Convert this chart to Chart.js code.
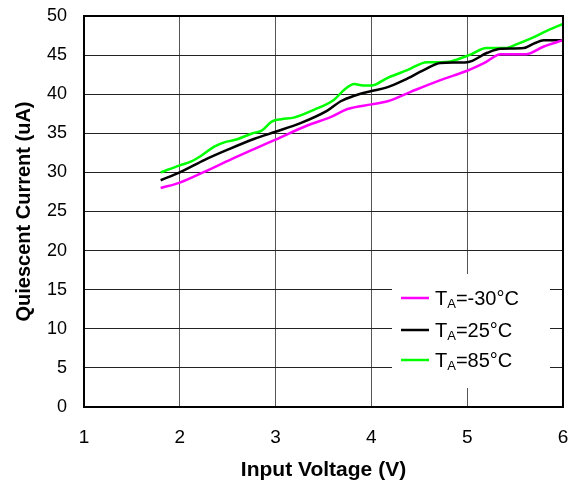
<!DOCTYPE html>
<html>
<head>
<meta charset="utf-8">
<script src="https://cdn.jsdelivr.net/npm/chart.js@4.4.0/dist/chart.umd.min.js"></script>
<style>
  html, body { margin: 0; padding: 0; background: #fff; }
  #wrap { width: 575px; height: 488px; }
</style>
</head>
<body>
<div id="wrap"><canvas id="c" width="575" height="488"></canvas></div>
<script>
// ---- data ----
const seriesLabels = ['-30°C', '25°C', '85°C'];
const seriesColors = ['#ff00ff', '#000000', '#00ff00'];

const vMinus30 = [1.8, 2.0, 2.26, 2.54, 2.78, 3.0, 3.33, 3.58, 3.75, 4.0, 4.17, 4.41, 4.72, 5.0, 5.18, 5.35, 5.61, 5.8, 6.0];
const iMinus30 = [28.0, 28.7, 30.1, 31.7, 33.0, 34.2, 36.0, 37.1, 38.1, 38.7, 39.1, 40.3, 41.8, 43.0, 44.0, 45.1, 45.1, 46.1, 46.9];

const v25 = [1.8, 2.0, 2.26, 2.5, 2.78, 3.0, 3.26, 3.54, 3.68, 3.82, 4.0, 4.17, 4.34, 4.55, 4.72, 5.0, 5.21, 5.35, 5.59, 5.7, 5.8, 6.0];
const i25 = [29.0, 30.0, 31.6, 32.9, 34.3, 35.2, 36.3, 37.9, 39.1, 39.8, 40.4, 40.9, 41.8, 43.1, 44.0, 44.1, 45.3, 45.8, 45.9, 46.5, 46.9, 46.9];

const v85 = [1.8, 2.0, 2.12, 2.22, 2.36, 2.48, 2.59, 2.76, 2.85, 2.96, 3.06, 3.19, 3.4, 3.61, 3.72, 3.82, 3.91, 4.0, 4.17, 4.38, 4.58, 4.72, 4.83, 5.04, 5.2, 5.4, 5.52, 5.66, 5.83, 6.0];
const i85 = [30.0, 30.9, 31.4, 32.1, 33.3, 33.9, 34.2, 35.0, 35.3, 36.5, 36.8, 37.0, 38.0, 39.3, 40.6, 41.3, 41.1, 41.1, 42.1, 43.1, 44.1, 44.1, 44.2, 45.1, 45.9, 45.9, 46.4, 47.1, 48.1, 49.0];

const xTicks = [1, 2, 3, 4, 5, 6];
const yTicks = [0, 5, 10, 15, 20, 25, 30, 35, 40, 45, 50];
const xTitle = 'Input Voltage (V)';
const yTitle = 'Quiescent Current (uA)';

const toPts = (xs, ys) => xs.map((x, k) => ({ x: x, y: ys[k] }));
const FONT = '"Liberation Sans", Arial, Helvetica, sans-serif';

const borderPlugin = {
  id: 'frame',
  afterDatasetsDraw(chart) {
    const { ctx, chartArea: a } = chart;
    ctx.save();
    ctx.strokeStyle = '#000';
    ctx.lineWidth = 2;
    ctx.strokeRect(a.left, a.top, a.right - a.left, a.bottom - a.top);
    ctx.restore();
  }
};

const legendPlugin = {
  id: 'subLegend',
  afterDraw(chart) {
    const { ctx, chartArea: a } = chart;
    ctx.save();
    ctx.fillStyle = '#fff';
    ctx.fillRect(a.right - 171, a.bottom - 133, 158, 114);
    const rows = [a.bottom - 109, a.bottom - 77, a.bottom - 47];
    seriesLabels.forEach((lab, k) => {
      const y = rows[k];
      ctx.strokeStyle = seriesColors[k];
      ctx.lineWidth = 2.5;
      ctx.beginPath();
      ctx.moveTo(a.right - 162, y);
      ctx.lineTo(a.right - 134, y);
      ctx.stroke();
      ctx.fillStyle = '#000';
      ctx.textAlign = 'left';
      ctx.textBaseline = 'alphabetic';
      let x = a.right - 128;
      ctx.font = '20px ' + FONT;
      ctx.fillText('T', x, y + 7);
      x += ctx.measureText('T').width;
      ctx.font = '13px ' + FONT;
      ctx.fillText('A', x, y + 9.5);
      x += ctx.measureText('A').width;
      ctx.font = '20px ' + FONT;
      ctx.fillText('=' + lab, x, y + 7);
    });
    ctx.restore();
  }
};

new Chart(document.getElementById('c'), {
  type: 'line',
  data: {
    datasets: [
      { label: 'TA=' + seriesLabels[0], data: toPts(vMinus30, iMinus30), borderColor: seriesColors[0] },
      { label: 'TA=' + seriesLabels[1], data: toPts(v25, i25), borderColor: seriesColors[1] },
      { label: 'TA=' + seriesLabels[2], data: toPts(v85, i85), borderColor: seriesColors[2] }
    ].map(d => Object.assign(d, {
      borderWidth: 2.5, pointRadius: 0, fill: false,
      cubicInterpolationMode: 'monotone', tension: 0.4
    }))
  },
  options: {
    responsive: false,
    animation: false,
    layout: { padding: { top: 16, right: 12, left: 0, bottom: 0 } },
    plugins: { legend: { display: false }, tooltip: { enabled: false } },
    scales: {
      x: {
        type: 'linear', min: 1, max: 6,
        afterBuildTicks: s => { s.ticks = xTicks.map(v => ({ value: v })); },
        afterFit: s => { s.height = 81; s.paddingLeft = 0; s.paddingRight = 0; },
        grid: { color: '#555', lineWidth: 1, drawTicks: false },
        border: { display: false },
        ticks: { color: '#000', padding: 19, font: { family: FONT, size: 19 } },
        title: { display: true, text: xTitle, color: '#000', padding: { top: 0, bottom: 5 },
                 font: { family: FONT, size: 21, weight: 'bold' } }
      },
      y: {
        type: 'linear', min: 0, max: 50,
        afterBuildTicks: s => { s.ticks = yTicks.map(v => ({ value: v })); },
        afterFit: s => { s.width = 84; s.paddingTop = 0; s.paddingBottom = 0; },
        grid: { color: '#222', lineWidth: 1, drawTicks: false },
        border: { display: false },
        ticks: { color: '#000', padding: 17, font: { family: FONT, size: 18 } },
        title: { display: true, text: yTitle, color: '#000', padding: { top: 12, bottom: 0 },
                 font: { family: FONT, size: 20, weight: 'bold' } }
      }
    }
  },
  plugins: [borderPlugin, legendPlugin]
});
</script>
</body>
</html>
